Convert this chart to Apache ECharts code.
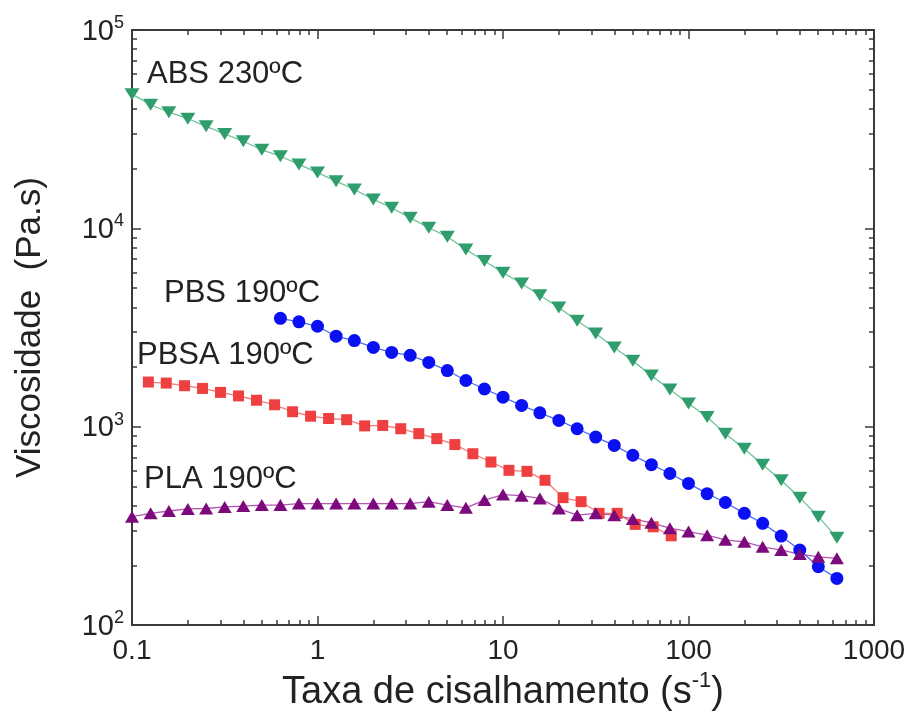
<!DOCTYPE html>
<html>
<head>
<meta charset="utf-8">
<title>Viscosidade x Taxa de cisalhamento</title>
<script src="https://cdn.jsdelivr.net/npm/echarts@6/dist/echarts.min.js"></script>
<style>
  html, body { margin: 0; padding: 0; background: #fff; }
  #chart { width: 914px; height: 717px; }
</style>
</head>
<body>
<div id="chart"></div>
<script>
// taxa de cisalhamento (s-1), grade do reômetro (10 pontos por década)
const shearRate = [0.1, 0.126, 0.158, 0.2, 0.251, 0.316, 0.398, 0.501, 0.631, 0.794,
  1, 1.26, 1.58, 2, 2.51, 3.16, 3.98, 5.01, 6.31, 7.94,
  10, 12.6, 15.8, 20, 25.1, 31.6, 39.8, 50.1, 63.1, 79.4,
  100, 126, 158, 200, 251, 316, 398, 501, 631];

// ABS 230ºC
const absVisc = [47500, 42000, 38500, 35700, 32700, 29900, 27500, 24900, 23100, 21000,
  19100, 17300, 15700, 14000, 12700, 11300, 10070, 9080, 7830, 6850,
  5980, 5270, 4600, 3990, 3420, 2950, 2510, 2150, 1810, 1540,
  1310, 1120, 923, 774, 644, 537, 439, 352, 276];

// PBS 190ºC (começa em 0.631 s-1)
const pbsRate = shearRate.slice(8);
const pbsVisc = [3520, 3380, 3210, 2860, 2720, 2510, 2370, 2290, 2110, 1920,
  1710, 1550, 1410, 1280, 1175, 1076, 977, 887, 805, 718,
  644, 581, 518, 460, 415, 366, 326, 281, 239, 197, 172];

// PBSA 190ºC (grade própria)
const pbsaRate = [0.1225, 0.153, 0.192, 0.24, 0.3, 0.375, 0.469, 0.587, 0.734, 0.918,
  1.148, 1.436, 1.796, 2.247, 2.81, 3.516, 4.398, 5.5, 6.88, 8.61,
  10.77, 13.47, 16.85, 21.07, 26.36, 32.96, 41.24, 51.58, 64.5, 80.7];
const pbsaVisc = [1680, 1660, 1610, 1560, 1490, 1430, 1360, 1290, 1190, 1130,
  1100, 1085, 1010, 1015, 977, 923, 871, 813, 731, 664,
  603, 596, 537, 439, 419, 366, 366, 322, 313, 282];

// PLA 190ºC
const plaVisc = [352, 366, 376, 385, 387, 394, 398, 403, 403, 410,
  410, 410, 410, 410, 410, 410, 419, 403, 390, 427,
  455, 449, 435, 387, 358, 366, 358, 343, 328, 308,
  296, 284, 269, 263, 248, 239, 228, 221, 217];

// ticks
const xMajor = [0.1, 1, 10, 100, 1000];
const xMinor = [0.2, 0.3, 0.4, 0.5, 0.6, 0.7, 0.8, 0.9, 2, 3, 4, 5, 6, 7, 8, 9,
  20, 30, 40, 50, 60, 70, 80, 90, 200, 300, 400, 500, 600, 700, 800, 900];
const yMajor = [100, 1000, 10000, 100000];
const yMinor = [200, 300, 400, 500, 600, 700, 800, 900, 2000, 3000, 4000, 5000, 6000, 7000, 8000, 9000,
  20000, 30000, 40000, 50000, 60000, 70000, 80000, 90000];

const labels = [
  { text: 'ABS 230ºC', left: 147, top: 59 },
  { text: 'PBS 190ºC', left: 164, top: 278 },
  { text: 'PBSA 190ºC', left: 137, top: 340 },
  { text: 'PLA 190ºC', left: 144, top: 464 }
];

const FONT = '"Liberation Sans", Arial, sans-serif';
const AXIS_COLOR = '#3a3a3a';

function pairs(xs, ys) {
  return ys.map((y, i) => [xs[i], y]);
}

// eixo log com ticks dados (principais ou secundários)
function logAxis(pos, min, max, ticks, len, showLine) {
  return {
    type: 'log',
    logBase: 10,
    position: pos,
    min: min,
    max: max,
    axisLine: { show: showLine, onZero: false, lineStyle: { color: AXIS_COLOR, width: 2 } },
    axisTick: { show: true, inside: true, length: len, customValues: ticks, lineStyle: { color: AXIS_COLOR, width: 1.5 } },
    axisLabel: { show: false },
    splitLine: { show: false },
    minorTick: { show: false }
  };
}

const chart = echarts.init(document.getElementById('chart'));

const xMain = logAxis('bottom', 0.1, 1000, xMajor, 9, true);
xMain.axisLabel = {
  show: true,
  customValues: xMajor,
  margin: 12,
  fontSize: 28,
  fontFamily: FONT,
  color: '#222',
  formatter: v => String(+v.toPrecision(3))
};
xMain.name = '{t|Taxa de cisalhamento (s}{s|-1}{t|)}';
xMain.nameLocation = 'middle';
xMain.nameGap = 38;
xMain.nameTextStyle = {
  rich: {
    t: { fontSize: 38, fontFamily: FONT, color: '#222', lineHeight: 42, verticalAlign: 'bottom' },
    s: { fontSize: 22, fontFamily: FONT, color: '#222', lineHeight: 22, verticalAlign: 'top' }
  }
};

const yMain = logAxis('left', 100, 100000, yMajor, 9, true);
yMain.axisLabel = {
  show: true,
  customValues: yMajor,
  margin: 8,
  formatter: v => '{b|10}{s|' + Math.round(Math.log10(v)) + '}',
  rich: {
    b: { fontSize: 29, fontFamily: FONT, color: '#222', lineHeight: 32, verticalAlign: 'bottom' },
    s: { fontSize: 18, fontFamily: FONT, color: '#222', lineHeight: 18, verticalAlign: 'top' }
  }
};
yMain.name = 'Viscosidade  (Pa.s)';
yMain.nameLocation = 'middle';
yMain.nameRotate = 90;
yMain.nameGap = 84;
yMain.nameTextStyle = { fontSize: 35, fontFamily: FONT, color: '#222' };

const option = {
  backgroundColor: '#fff',
  animation: false,
  grid: { left: 132, right: 40, top: 30, bottom: 90 },
  xAxis: [
    xMain,
    logAxis('bottom', 0.1, 1000, xMinor, 5, false),
    logAxis('top', 0.1, 1000, xMajor, 9, true),
    logAxis('top', 0.1, 1000, xMinor, 5, false)
  ],
  yAxis: [
    yMain,
    logAxis('left', 100, 100000, yMinor, 5, false),
    logAxis('right', 100, 100000, yMajor, 9, true),
    logAxis('right', 100, 100000, yMinor, 5, false)
  ],
  series: [
    {
      name: 'ABS 230ºC',
      type: 'line',
      data: pairs(shearRate, absVisc),
      symbol: 'triangle',
      symbolRotate: 180,
      symbolSize: [15, 12],
      itemStyle: { color: '#2f9e6c' },
      lineStyle: { color: '#6cc29a', width: 1.3 }
    },
    {
      name: 'PBS 190ºC',
      type: 'line',
      data: pairs(pbsRate, pbsVisc),
      symbol: 'circle',
      symbolSize: 13,
      itemStyle: { color: '#0a10f2' },
      lineStyle: { color: '#4a6cf2', width: 1.3 }
    },
    {
      name: 'PBSA 190ºC',
      type: 'line',
      data: pairs(pbsaRate, pbsaVisc),
      symbol: 'rect',
      symbolSize: 11,
      itemStyle: { color: '#ee4040' },
      lineStyle: { color: '#f27a7a', width: 1.3 }
    },
    {
      name: 'PLA 190ºC',
      type: 'line',
      data: pairs(shearRate, plaVisc),
      symbol: 'triangle',
      symbolSize: [14, 12],
      itemStyle: { color: '#7d0a7d' },
      lineStyle: { color: '#b455b4', width: 1.3 }
    }
  ],
  graphic: labels.map(l => ({
    type: 'text',
    left: l.left,
    top: l.top,
    style: { text: l.text, fontSize: 31, fontFamily: FONT, fill: '#222' }
  }))
};

chart.setOption(option);
</script>
</body>
</html>
